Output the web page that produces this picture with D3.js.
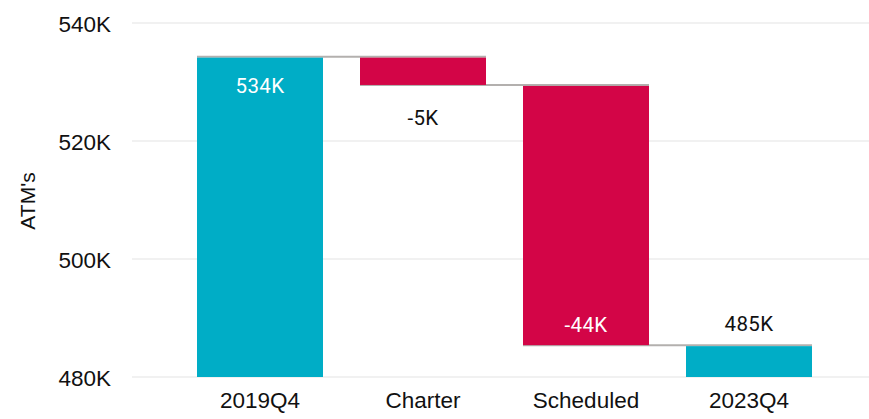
<!DOCTYPE html>
<html lang="en">
  <head>
    <meta charset="UTF-8" />
    <title>ATM's waterfall</title>
    <script src="https://d3js.org/d3.v7.min.js"></script>
    <style>
      body {
        margin: 0;
        background: #fff;
      }
      .tick-label {
        font-family: "Liberation Sans", Arial, sans-serif;
        font-size: 22.5px;
        fill: #111;
      }
      .bar-label {
        font-family: Roboto, "DejaVu Sans", sans-serif;
        font-size: 20.5px;
        letter-spacing: 0.4px;
      }
    </style>
  </head>
  <body>
    <svg id="chart" width="869" height="419"></svg>
    <script>
      // values in thousands
      const categories = ["2019Q4", "Charter", "Scheduled", "2023Q4"];
      const kinds = ["total", "delta", "delta", "total"];
      const values = [534.3, -4.8, -44.1, 485.4];
      const yTicks = [480, 500, 520, 540];

      const width = 869;
      const teal = "#00adc6";
      const red = "#d30547";

      const svg = d3.select("#chart");

      const x = d3
        .scaleBand()
        .domain(categories)
        .range([178.5, 830.5])
        .paddingInner(0.227)
        .paddingOuter(0.1135);

      const y = d3.scaleLinear().domain([480, 540]).range([377, 23]);

      // gridlines + tick labels
      const grid = svg.append("g");
      yTicks.forEach((t) => {
        grid
          .append("line")
          .attr("x1", 132)
          .attr("x2", width)
          .attr("y1", y(t))
          .attr("y2", y(t))
          .attr("stroke", "#ececec")
          .attr("stroke-width", 1.5);
        grid
          .append("text")
          .attr("class", "tick-label")
          .attr("x", 111)
          .attr("y", y(t) + 8.5)
          .attr("text-anchor", "end")
          .text(t + "K");
      });

      svg
        .append("text")
        .attr("class", "tick-label")
        .style("font-size", "21px")
        .attr("transform", "translate(35,201) rotate(-90)")
        .attr("text-anchor", "middle")
        .text("ATM's");

      // build waterfall steps
      let running = 0;
      const steps = categories.map((c, i) => {
        let start, end;
        if (kinds[i] === "total") {
          start = 480;
          end = values[i];
        } else {
          start = running;
          end = running + values[i];
        }
        running = end;
        return { cat: c, kind: kinds[i], value: values[i], start, end };
      });

      // connectors
      steps.slice(0, -1).forEach((s, i) => {
        svg
          .append("line")
          .attr("x1", x(s.cat))
          .attr("x2", x(steps[i + 1].cat) + x.bandwidth())
          .attr("y1", y(s.end))
          .attr("y2", y(s.end))
          .attr("stroke", "#b3b0ae")
          .attr("stroke-width", 2);
      });

      svg
        .append("g")
        .selectAll("rect")
        .data(steps)
        .join("rect")
        .attr("x", (d) => x(d.cat))
        .attr("width", x.bandwidth())
        .attr("y", (d) => y(Math.max(d.start, d.end)) + 1)
        .attr("height", (d) => Math.abs(y(d.start) - y(d.end)) - 1)
        .attr("fill", (d) => (d.kind === "total" ? teal : red));

      // labels
      steps.forEach((d) => {
        const top = y(Math.max(d.start, d.end));
        const bottom = y(Math.min(d.start, d.end));
        const inside = bottom - top > 60;
        const label = Math.round(d.value) + "K";
        let ly;
        if (d.kind === "total") {
          ly = inside ? top + 29 : top - 22;
        } else {
          ly = inside ? bottom - 21 : bottom + 33;
        }
        svg
          .append("text")
          .attr("class", "bar-label")
          .attr("x", x(d.cat) + x.bandwidth() / 2)
          .attr("y", ly)
          .attr("dy", "0.36em")
          .attr("text-anchor", "middle")
          .attr("fill", inside ? "#fff" : "#111")
          .text(label);
      });

      // category labels
      categories.forEach((c) => {
        svg
          .append("text")
          .attr("class", "tick-label")
          .attr("x", x(c) + x.bandwidth() / 2)
          .attr("y", 408)
          .attr("text-anchor", "middle")
          .text(c);
      });
    </script>
  </body>
</html>
